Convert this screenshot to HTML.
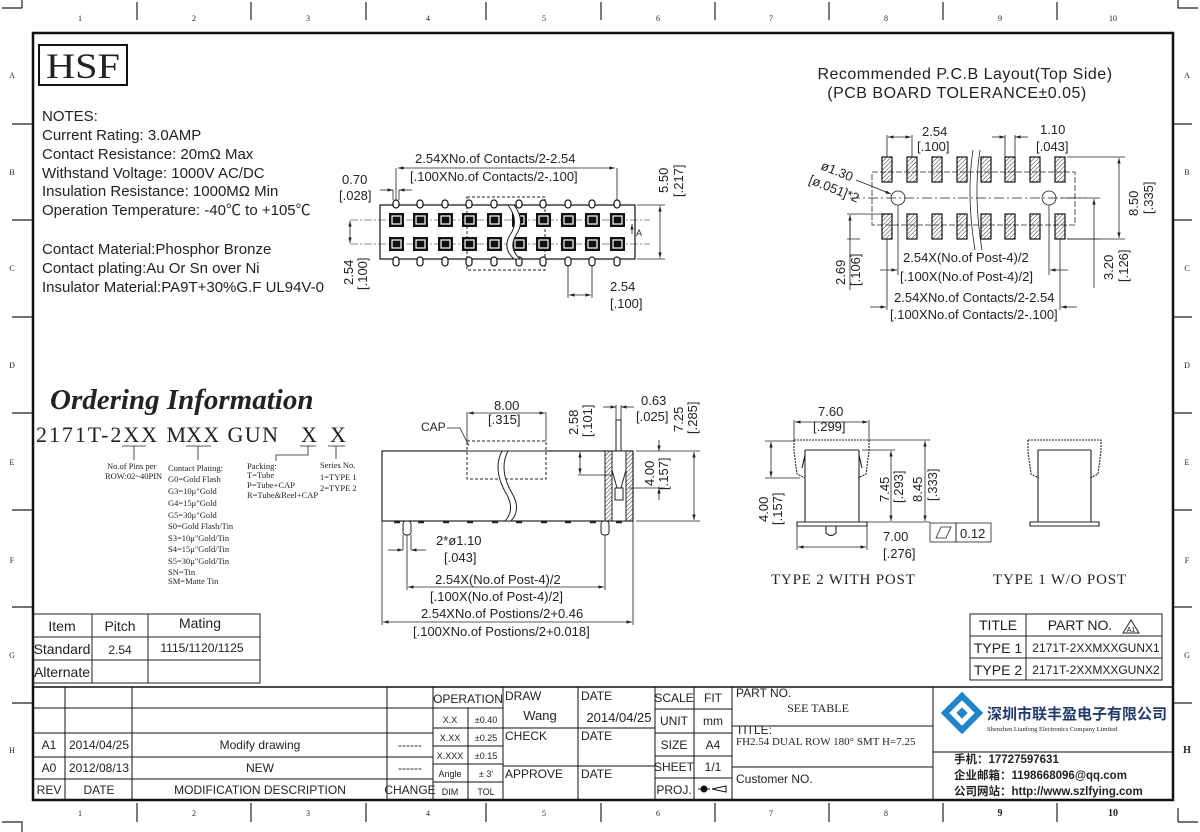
<!DOCTYPE html>
<html><head><meta charset="utf-8"><style>
html,body{margin:0;padding:0;background:#fff}
svg{display:block}
text{font-family:"Liberation Sans","Noto Sans CJK SC",sans-serif;fill:#222}
.s,.s text{font-family:"Liberation Serif","Noto Serif CJK SC",serif}
</style></head><body>
<svg width="1200" height="832" viewBox="0 0 1200 832" xmlns="http://www.w3.org/2000/svg">
<defs>
<pattern id="h" width="3" height="3" patternUnits="userSpaceOnUse" patternTransform="rotate(45)"><line x1="0" y1="0" x2="0" y2="3" stroke="#333" stroke-width="1"/></pattern>
<marker id="a" viewBox="0 0 10 10" refX="10" refY="5" markerWidth="7" markerHeight="7" orient="auto-start-reverse"><path d="M0,2 L10,5 L0,8z" fill="#222"/></marker>
</defs>
<!-- border -->
<rect x="33" y="33" width="1140" height="767" fill="none" stroke="#111" stroke-width="2.5"/>
<g stroke="#222" stroke-width="1.2" fill="none">
<path d="M2,8 H22 M22,8 V0"/><path d="M1178,0 V8 H1198"/>
<path d="M2,822 H22 V832"/><path d="M1178,822 V808 M1178,822 H1198" />
<line x1="137" y1="2" x2="137" y2="20"/><line x1="251" y1="2" x2="251" y2="20"/><line x1="366" y1="2" x2="366" y2="20"/><line x1="486" y1="2" x2="486" y2="20"/><line x1="601" y1="2" x2="601" y2="20"/><line x1="715" y1="2" x2="715" y2="20"/><line x1="829" y1="2" x2="829" y2="20"/><line x1="943" y1="2" x2="943" y2="20"/><line x1="1057" y1="2" x2="1057" y2="20"/>
<line x1="137" y1="803" x2="137" y2="822"/><line x1="251" y1="803" x2="251" y2="822"/><line x1="366" y1="803" x2="366" y2="822"/><line x1="486" y1="803" x2="486" y2="822"/><line x1="601" y1="803" x2="601" y2="822"/><line x1="715" y1="803" x2="715" y2="822"/><line x1="829" y1="803" x2="829" y2="822"/><line x1="943" y1="803" x2="943" y2="822"/><line x1="1057" y1="803" x2="1057" y2="822"/>
<line x1="12" y1="124" x2="33" y2="124"/><line x1="12" y1="220" x2="33" y2="220"/><line x1="12" y1="317" x2="33" y2="317"/><line x1="12" y1="413" x2="33" y2="413"/><line x1="12" y1="510" x2="33" y2="510"/><line x1="12" y1="607" x2="33" y2="607"/><line x1="12" y1="703" x2="33" y2="703"/>
<line x1="1173" y1="124" x2="1192" y2="124"/><line x1="1173" y1="220" x2="1192" y2="220"/><line x1="1173" y1="317" x2="1192" y2="317"/><line x1="1173" y1="413" x2="1192" y2="413"/><line x1="1173" y1="510" x2="1192" y2="510"/><line x1="1173" y1="607" x2="1192" y2="607"/><line x1="1173" y1="703" x2="1192" y2="703"/>
</g>
<g font-size="8" text-anchor="middle" class="s">
<text x="80" y="21">1</text><text x="194" y="21">2</text><text x="308" y="21">3</text><text x="428" y="21">4</text><text x="544" y="21">5</text><text x="658" y="21">6</text><text x="771" y="21">7</text><text x="886" y="21">8</text><text x="1000" y="21">9</text><text x="1113" y="21">10</text>
<text x="80" y="816">1</text><text x="194" y="816">2</text><text x="308" y="816">3</text><text x="428" y="816">4</text><text x="544" y="816">5</text><text x="658" y="816">6</text><text x="771" y="816">7</text><text x="886" y="816">8</text><text x="1000" y="816" font-size="10" font-weight="bold">9</text><text x="1113" y="816" font-size="10" font-weight="bold">10</text>
<text x="12" y="78">A</text><text x="12" y="175">B</text><text x="12" y="271">C</text><text x="12" y="368">D</text><text x="12" y="465">E</text><text x="12" y="563">F</text><text x="12" y="658">G</text><text x="12" y="753">H</text>
<text x="1187" y="78">A</text><text x="1187" y="175">B</text><text x="1187" y="271">C</text><text x="1187" y="368">D</text><text x="1187" y="465">E</text><text x="1187" y="563">F</text><text x="1187" y="658">G</text><text x="1187" y="753" font-size="10" font-weight="bold">H</text>
</g>
<!-- HSF -->
<rect x="39" y="45" width="88" height="40" fill="none" stroke="#111" stroke-width="2"/>
<text x="83" y="78" text-anchor="middle" class="s" font-size="36" textLength="74" lengthAdjust="spacingAndGlyphs">HSF</text>
<!-- notes -->
<g font-size="15">
<text x="42" y="121">NOTES:</text>
<text x="42" y="140">Current Rating: 3.0AMP</text>
<text x="42" y="159">Contact Resistance: 20mΩ Max</text>
<text x="42" y="178">Withstand Voltage: 1000V AC/DC</text>
<text x="42" y="196">Insulation Resistance: 1000MΩ Min</text>
<text x="42" y="215">Operation Temperature: -40℃ to +105℃</text>
<text x="42" y="254">Contact Material:Phosphor Bronze</text>
<text x="42" y="273">Contact plating:Au Or Sn over Ni</text>
<text x="42" y="292">Insulator Material:PA9T+30%G.F UL94V-0</text>
</g>
<!-- top connector view -->
<g stroke="#222" fill="none" stroke-width="1">
<rect x="380" y="205" width="255" height="54" stroke-width="1.3"/>
<rect x="467" y="197" width="78" height="73" stroke-dasharray="3,2"/>
<line x1="350" y1="220" x2="650" y2="220" stroke-dasharray="8,2,2,2" stroke-width=".6"/>
<line x1="350" y1="244" x2="650" y2="244" stroke-dasharray="8,2,2,2" stroke-width=".6"/>
</g>
<g fill="#fff" stroke="#111" stroke-width="1.2">
<rect x="393" y="200" width="6" height="8" rx="3"/><rect x="417" y="200" width="6" height="8" rx="3"/><rect x="442" y="200" width="6" height="8" rx="3"/><rect x="466" y="200" width="6" height="8" rx="3"/><rect x="491" y="200" width="6" height="8" rx="3"/><rect x="516" y="200" width="6" height="8" rx="3"/><rect x="540" y="200" width="6" height="8" rx="3"/><rect x="565" y="200" width="6" height="8" rx="3"/><rect x="589" y="200" width="6" height="8" rx="3"/><rect x="614" y="200" width="6" height="8" rx="3"/>
<rect x="393" y="257" width="6" height="9" rx="3"/><rect x="417" y="257" width="6" height="9" rx="3"/><rect x="442" y="257" width="6" height="9" rx="3"/><rect x="466" y="257" width="6" height="9" rx="3"/><rect x="491" y="257" width="6" height="9" rx="3"/><rect x="516" y="257" width="6" height="9" rx="3"/><rect x="540" y="257" width="6" height="9" rx="3"/><rect x="565" y="257" width="6" height="9" rx="3"/><rect x="589" y="257" width="6" height="9" rx="3"/><rect x="614" y="257" width="6" height="9" rx="3"/>
</g>
<g fill="#111">
<rect x="389" y="213" width="15" height="14"/><rect x="413" y="213" width="15" height="14"/><rect x="438" y="213" width="15" height="14"/><rect x="462" y="213" width="15" height="14"/><rect x="487" y="213" width="15" height="14"/><rect x="512" y="213" width="15" height="14"/><rect x="536" y="213" width="15" height="14"/><rect x="561" y="213" width="15" height="14"/><rect x="585" y="213" width="15" height="14"/><rect x="610" y="213" width="15" height="14"/>
<rect x="389" y="237" width="15" height="14"/><rect x="413" y="237" width="15" height="14"/><rect x="438" y="237" width="15" height="14"/><rect x="462" y="237" width="15" height="14"/><rect x="487" y="237" width="15" height="14"/><rect x="512" y="237" width="15" height="14"/><rect x="536" y="237" width="15" height="14"/><rect x="561" y="237" width="15" height="14"/><rect x="585" y="237" width="15" height="14"/><rect x="610" y="237" width="15" height="14"/>
</g>
<g fill="none" stroke="#fff" stroke-width="1.2">
<rect x="392" y="216" width="9" height="8"/><rect x="416" y="216" width="9" height="8"/><rect x="441" y="216" width="9" height="8"/><rect x="465" y="216" width="9" height="8"/><rect x="490" y="216" width="9" height="8"/><rect x="515" y="216" width="9" height="8"/><rect x="539" y="216" width="9" height="8"/><rect x="564" y="216" width="9" height="8"/><rect x="588" y="216" width="9" height="8"/><rect x="613" y="216" width="9" height="8"/>
<rect x="392" y="240" width="9" height="8"/><rect x="416" y="240" width="9" height="8"/><rect x="441" y="240" width="9" height="8"/><rect x="465" y="240" width="9" height="8"/><rect x="490" y="240" width="9" height="8"/><rect x="515" y="240" width="9" height="8"/><rect x="539" y="240" width="9" height="8"/><rect x="564" y="240" width="9" height="8"/><rect x="588" y="240" width="9" height="8"/><rect x="613" y="240" width="9" height="8"/>
</g>
<path d="M508,205 Q520,221 510,235 Q502,248 514,259 L520,259 Q508,248 516,235 Q526,221 514,205Z" fill="#fff" stroke="#222" stroke-width="1"/>
<g stroke="#222" stroke-width=".8" fill="none">
<path d="M396,168 V200 M617,168 V200" />
<line x1="398" y1="168" x2="615" y2="168" marker-start="url(#a)" marker-end="url(#a)"/>
<path d="M393,190 V200 M399,190 V200"/><line x1="380" y1="190" x2="393" y2="190" marker-end="url(#a)"/><line x1="412" y1="190" x2="399" y2="190" marker-end="url(#a)"/>
<path d="M637,205 H665 M637,259 H665"/><line x1="660" y1="206" x2="660" y2="258" marker-start="url(#a)" marker-end="url(#a)"/>
<line x1="350" y1="221" x2="350" y2="243" marker-start="url(#a)" marker-end="url(#a)"/>
<path d="M568,266 V298 M592,266 V298"/><line x1="569" y1="295" x2="591" y2="295" marker-start="url(#a)" marker-end="url(#a)"/>
<line x1="632" y1="224" x2="632" y2="234" marker-start="url(#a)"/>
</g>
<g font-size="13">
<text x="415" y="163">2.54XNo.of Contacts/2-2.54</text>
<text x="410" y="181">[.100XNo.of Contacts/2-.100]</text>
<text x="342" y="184">0.70</text><text x="339" y="200">[.028]</text>
<text x="610" y="291">2.54</text><text x="610" y="308">[.100]</text>
<text x="636" y="236" font-size="9">A</text>
<text transform="translate(353,285) rotate(-90)">2.54</text><text transform="translate(367,290) rotate(-90)">[.100]</text>
<text transform="translate(668,193) rotate(-90)">5.50</text>
<text transform="translate(683,197) rotate(-90)">[.217]</text>
</g>
<!-- PCB layout -->
<text x="965" y="79" text-anchor="middle" font-size="16" letter-spacing="0.5">Recommended P.C.B Layout(Top Side)</text>
<text x="957" y="98" text-anchor="middle" font-size="16" letter-spacing="0.5">(PCB BOARD TOLERANCE±0.05)</text>
<g stroke="#222" fill="none" stroke-width=".8">
<rect x="872" y="172" width="203" height="53" stroke-dasharray="6,2"/>
<line x1="850" y1="198" x2="1085" y2="198" stroke-dasharray="10,3,2,3"/>
<circle cx="898" cy="198" r="7"/><circle cx="1049" cy="198" r="7"/>
<path d="M973,150 Q966,195 975,250 M980,150 Q973,195 982,250" />
<line x1="856" y1="180" x2="891" y2="194" marker-end="url(#a)"/>
</g>
<g fill="url(#h)" stroke="#111" stroke-width="1.2">
<rect x="882" y="157" width="10" height="25"/><rect x="907" y="157" width="10" height="25"/><rect x="932" y="157" width="10" height="25"/><rect x="957" y="157" width="10" height="25"/><rect x="981" y="157" width="10" height="25"/><rect x="1005" y="157" width="10" height="25"/><rect x="1030" y="157" width="10" height="25"/><rect x="1055" y="157" width="10" height="25"/>
<rect x="882" y="214" width="10" height="25"/><rect x="907" y="214" width="10" height="25"/><rect x="932" y="214" width="10" height="25"/><rect x="957" y="214" width="10" height="25"/><rect x="981" y="214" width="10" height="25"/><rect x="1005" y="214" width="10" height="25"/><rect x="1030" y="214" width="10" height="25"/><rect x="1055" y="214" width="10" height="25"/>
</g>
<g stroke="#222" fill="none" stroke-width=".8">
<path d="M887,135 V157 M912,135 V157"/><line x1="888" y1="137" x2="911" y2="137" marker-start="url(#a)" marker-end="url(#a)"/>
<path d="M1005,135 V157 M1015,135 V157"/><line x1="992" y1="137" x2="1005" y2="137" marker-end="url(#a)"/><line x1="1028" y1="137" x2="1015" y2="137" marker-end="url(#a)"/>
<path d="M1067,157 H1125 M1067,239 H1125"/><line x1="1119" y1="158" x2="1119" y2="238" marker-start="url(#a)" marker-end="url(#a)"/>
<path d="M1060,198 H1100"/><path d="M1067,239 H1100"/><line x1="1094" y1="199" x2="1094" y2="288" marker-start="url(#a)"/>
<path d="M847,214 H882 M847,239 H860"/><line x1="850" y1="215" x2="850" y2="290"/><line x1="850" y1="215" x2="850" y2="240" marker-start="url(#a)"/>
<path d="M898,205 V275 M1049,205 V275"/><line x1="880" y1="270" x2="897" y2="270" marker-end="url(#a)"/><line x1="1068" y1="270" x2="1050" y2="270" marker-end="url(#a)"/>
<path d="M887,239 V310 M1060,239 V310"/><line x1="870" y1="307" x2="886" y2="307" marker-end="url(#a)"/><line x1="1077" y1="307" x2="1061" y2="307" marker-end="url(#a)"/>
</g>
<g font-size="13">
<text x="922" y="136">2.54</text><text x="917" y="151">[.100]</text>
<text x="1040" y="134">1.10</text><text x="1036" y="151">[.043]</text>
<text transform="translate(820,169) rotate(22)">ø1.30</text>
<text transform="translate(808,183) rotate(22)">[ø.051]*2</text>
<text x="903" y="262">2.54X(No.of Post-4)/2</text>
<text x="900" y="281">[.100X(No.of Post-4)/2]</text>
<text x="894" y="302">2.54XNo.of Contacts/2-2.54</text>
<text x="890" y="319">[.100XNo.of Contacts/2-.100]</text>
<text transform="translate(1138,216) rotate(-90)">8.50</text><text transform="translate(1153,214) rotate(-90)">[.335]</text>
<text transform="translate(1113,280) rotate(-90)">3.20</text><text transform="translate(1128,282) rotate(-90)">[.126]</text>
<text transform="translate(845,285) rotate(-90)">2.69</text><text transform="translate(860,286) rotate(-90)">[.106]</text>
</g>
<!-- Ordering -->
<text x="50" y="409" class="s" font-size="29" font-weight="bold" font-style="italic">Ordering Information</text>
<g class="s" font-size="22">
<text x="36" y="442" textLength="150" lengthAdjust="spacing">2171T-2XX M</text>
<text x="186" y="442" textLength="92" lengthAdjust="spacing">XX GUN</text>
<text x="301" y="442">X</text><text x="330" y="442">X</text>
</g>
<g stroke="#222" stroke-width=".8" fill="none">
<path d="M122,446 H146 M134,446 V460"/><path d="M186,446 H211 M198,446 V460"/><path d="M300,446 H316 M308,446 V455 H276 V461"/><path d="M328,446 H345 M336,446 V459"/>
</g>
<g class="s" font-size="8.5">
<text x="107" y="469">No.of Pins per</text><text x="105" y="479">ROW:02~40PIN</text>
<text x="168" y="471">Contact Plating:</text>
<text x="168" y="482">G0=Gold Flash</text><text x="168" y="494">G3=10μ"Gold</text><text x="168" y="506">G4=15μ"Gold</text><text x="168" y="518">G5=30μ"Gold</text><text x="168" y="529">S0=Gold Flash/Tin</text><text x="168" y="541">S3=10μ"Gold/Tin</text><text x="168" y="552">S4=15μ"Gold/Tin</text><text x="168" y="564">S5=30μ"Gold/Tin</text><text x="168" y="575">SN=Tin</text><text x="168" y="584">SM=Matte Tin</text>
<text x="247" y="469">Packing:</text><text x="247" y="478">T=Tube</text><text x="247" y="488">P=Tube+CAP</text><text x="247" y="498">R=Tube&amp;Reel+CAP</text>
<text x="320" y="468">Series No.</text><text x="320" y="480">1=TYPE 1</text><text x="320" y="491">2=TYPE 2</text>
</g>
<!-- side view -->
<g stroke="#222" fill="none" stroke-width="1">
<rect x="382" y="451" width="251" height="70" stroke-width="1.2"/>
<rect x="467" y="441" width="79" height="38" stroke-dasharray="3,2" fill="#fff"/>
<path d="M382,451 H633"/>
<rect x="605" y="451" width="28" height="70" fill="url(#h)"/>
<rect x="612" y="451" width="14" height="70" fill="#fff"/>
<path d="M616,451 V420 H621 V451 M612,470 L617,488 M626,470 L621,488 M615,488 H623 V500 H615Z"/>
<path d="M502,451 Q492,470 507,495 Q515,510 505,521 L511,521 Q521,510 513,495 Q498,470 508,451Z" fill="#fff"/>
<rect x="403" y="521" width="8" height="14" rx="3" fill="#fff"/><rect x="601" y="521" width="8" height="14" rx="3" fill="#fff"/>
<path d="M394,522 h6 M418,522 h6 M443,522 h6 M467,522 h6 M492,522 h6 M516,522 h6 M541,522 h6 M565,522 h6 M590,522 h6 M616,522 h6" stroke-width="2.5"/>
</g>
<g stroke="#222" fill="none" stroke-width=".8">
<path d="M467,412 V441 M546,412 V441"/><line x1="468" y1="413" x2="545" y2="413" marker-start="url(#a)" marker-end="url(#a)"/>
<path d="M447,428 H460 L469,446"/>
<path d="M580,451 H605 M578,475 H612"/><line x1="580" y1="452" x2="580" y2="474" marker-start="url(#a)" marker-end="url(#a)"/>
<path d="M616,405 V420 M621,405 V420"/><line x1="603" y1="407" x2="616" y2="407" marker-end="url(#a)"/><line x1="634" y1="407" x2="621" y2="407" marker-end="url(#a)"/>
<path d="M636,451 H700 M636,521 H700"/><line x1="694" y1="452" x2="694" y2="520" marker-start="url(#a)" marker-end="url(#a)"/>
<path d="M629,488 H665"/><line x1="659" y1="440" x2="659" y2="451" marker-end="url(#a)"/><line x1="659" y1="500" x2="659" y2="488" marker-end="url(#a)"/>
<path d="M403,535 V550 M411,535 V550"/><line x1="388" y1="550" x2="403" y2="550" marker-end="url(#a)"/><line x1="426" y1="550" x2="411" y2="550" marker-end="url(#a)"/>
<path d="M407,535 V590 M605,535 V590"/><line x1="408" y1="587" x2="604" y2="587" marker-start="url(#a)" marker-end="url(#a)"/>
<path d="M382,521 V625 M633,521 V625"/><line x1="383" y1="622" x2="632" y2="622" marker-start="url(#a)" marker-end="url(#a)"/>
</g>
<g font-size="13">
<text x="494" y="410">8.00</text><text x="488" y="424">[.315]</text>
<text x="421" y="431" font-size="12">CAP</text>
<text transform="translate(578,435) rotate(-90)">2.58</text><text transform="translate(592,437) rotate(-90)">[.101]</text>
<text x="641" y="405">0.63</text><text x="636" y="421">[.025]</text>
<text transform="translate(683,432) rotate(-90)">7.25</text><text transform="translate(697,434) rotate(-90)">[.285]</text>
<text transform="translate(654,486) rotate(-90)">4.00</text><text transform="translate(668,490) rotate(-90)">[.157]</text>
<text x="436" y="545">2*ø1.10</text><text x="444" y="562">[.043]</text>
<text x="435" y="584">2.54X(No.of Post-4)/2</text>
<text x="430" y="601">[.100X(No.of Post-4)/2]</text>
<text x="421" y="618">2.54XNo.of Postions/2+0.46</text>
<text x="413" y="636">[.100XNo.of Postions/2+0.018]</text>
</g>
<!-- type 2 -->
<g stroke="#222" fill="none" stroke-width="1.1">
<path d="M794,440 H869 V451 L866,474 L858,478 M794,440 V451 L797,474 L805,478" stroke-dasharray="2,1"/>
<path d="M805,450 H859 M805,450 V522 M859,450 V522 M805,455 L802,468 M859,455 L862,468"/>
<path d="M797,522 H867 V526 H797Z"/>
<path d="M826,526 V533 Q831,538 836,533 V526"/>
<path d="M1028,440 H1101 V451 L1098,474 L1090,478 M1028,440 V451 L1031,474 L1039,478" stroke-dasharray="2,1"/>
<path d="M1038,450 H1091 M1038,450 V522 M1091,450 V522"/>
<path d="M1030,522 H1099 V526 H1030Z"/>
</g>
<g stroke="#222" fill="none" stroke-width=".8">
<path d="M794,420 V440 M869,420 V440"/><line x1="795" y1="422" x2="868" y2="422" marker-start="url(#a)" marker-end="url(#a)"/>
<path d="M765,441 H794 M765,478 H800"/><line x1="771" y1="442" x2="771" y2="477" marker-start="url(#a)" marker-end="url(#a)"/>
<path d="M862,450 H895"/><line x1="891" y1="451" x2="891" y2="521" marker-start="url(#a)" marker-end="url(#a)"/>
<path d="M869,440 H930 M867,522 H930"/><line x1="925" y1="441" x2="925" y2="521" marker-start="url(#a)" marker-end="url(#a)"/>
<path d="M797,526 V550 M867,526 V550"/><line x1="798" y1="547" x2="866" y2="547" marker-start="url(#a)" marker-end="url(#a)"/>
<rect x="930" y="523" width="26" height="19"/><rect x="956" y="523" width="35" height="19"/>
<path d="M936,538 L941,527 H951 L946,538Z"/>
</g>
<g font-size="13">
<text x="818" y="416">7.60</text><text x="813" y="431">[.299]</text>
<text transform="translate(768,522) rotate(-90)">4.00</text><text transform="translate(782,525) rotate(-90)">[.157]</text>
<text transform="translate(889,502) rotate(-90)">7.45</text><text transform="translate(903,503) rotate(-90)">[.293]</text>
<text transform="translate(922,502) rotate(-90)">8.45</text><text transform="translate(937,501) rotate(-90)">[.333]</text>
<text x="883" y="541">7.00</text><text x="883" y="558">[.276]</text>
<text x="960" y="538">0.12</text>
</g>
<text x="771" y="584" class="s" font-size="15" letter-spacing="0.8">TYPE 2 WITH POST</text>
<text x="993" y="584" class="s" font-size="15" letter-spacing="0.8">TYPE 1 W/O POST</text>
<!-- item table -->
<g stroke="#222" fill="none" stroke-width="1">
<rect x="33" y="614" width="227" height="69"/>
<path d="M33,637 H260 M33,660 H260 M92,614 V683 M148,614 V683"/>
<rect x="970" y="614" width="192" height="66"/>
<path d="M970,636 H1162 M970,658 H1162 M1026,614 V680"/>
</g>
<g font-size="14" text-anchor="middle">
<text x="62" y="631">Item</text><text x="120" y="631">Pitch</text><text x="200" y="628">Mating</text>
<text x="62" y="654">Standard</text><text x="120" y="654" font-size="12">2.54</text><text x="202" y="652" font-size="12">1115/1120/1125</text>
<text x="62" y="677">Alternate</text>
<text x="998" y="630">TITLE</text><text x="1080" y="630">PART NO.</text>
<text x="998" y="653">TYPE 1</text><text x="1096" y="652" font-size="12">2171T-2XXMXXGUNX1</text>
<text x="998" y="675">TYPE 2</text><text x="1096" y="674" font-size="12">2171T-2XXMXXGUNX2</text>
</g>
<path d="M1123,633 L1131,620 L1139,633Z" fill="none" stroke="#222"/><text x="1131" y="632" font-size="7" text-anchor="middle">A1</text>
<!-- title block -->
<g stroke="#111" fill="none" stroke-width="1">
<path d="M33,687 H1173" stroke-width="1.5"/>
<path d="M33,708 H433 M33,733 H433 M33,757 H433 M33,779 H433"/>
<path d="M65,687 V800 M132,687 V800 M387,687 V800 M433,687 V800"/>
<path d="M433,708 H503 M433,728 H503 M433,746 H503 M433,764 H503 M433,782 H503 M468,708 V800 M503,687 V800"/>
<path d="M503,728 H655 M503,766 H655 M578,687 V800 M655,687 V800"/>
<path d="M655,709 H732 M655,733 H732 M655,756 H732 M655,778 H732 M694,687 V800 M732,687 V800"/>
<path d="M732,726 H933 M732,767 H933 M933,687 V800 M933,752 H1173"/>
</g>
<g font-size="12" text-anchor="middle">
<text x="49" y="749">A1</text><text x="99" y="749">2014/04/25</text><text x="260" y="749">Modify drawing</text><text x="410" y="749">------</text>
<text x="49" y="772">A0</text><text x="99" y="772">2012/08/13</text><text x="260" y="772">NEW</text><text x="410" y="772">------</text>
<text x="49" y="794">REV</text><text x="99" y="794">DATE</text><text x="260" y="794">MODIFICATION DESCRIPTION</text><text x="410" y="794">CHANGE</text>
<text x="468" y="703">OPERATION</text>
<text x="450" y="723" font-size="9">X.X</text><text x="486" y="723" font-size="9">±0.40</text>
<text x="450" y="741" font-size="9">X.XX</text><text x="486" y="741" font-size="9">±0.25</text>
<text x="450" y="759" font-size="9">X.XXX</text><text x="486" y="759" font-size="9">±0.15</text>
<text x="450" y="777" font-size="9">Angle</text><text x="486" y="777" font-size="9">± 3'</text>
<text x="450" y="795" font-size="9">DIM</text><text x="486" y="795" font-size="9">TOL</text>
<text x="540" y="720" font-size="13">Wang</text>
<text x="619" y="722" font-size="13">2014/04/25</text>
<text x="674" y="702">SCALE</text><text x="713" y="702">FIT</text>
<text x="674" y="725">UNIT</text><text x="713" y="725">mm</text>
<text x="674" y="749">SIZE</text><text x="713" y="749">A4</text>
<text x="674" y="771">SHEET</text><text x="713" y="771">1/1</text>
<text x="674" y="794">PROJ.</text>
<text x="818" y="712" class="s">SEE TABLE</text>
</g>
<g font-size="12">
<text x="505" y="700">DRAW</text><text x="505" y="740">CHECK</text><text x="505" y="778">APPROVE</text>
<text x="581" y="700">DATE</text><text x="581" y="740">DATE</text><text x="581" y="778">DATE</text>
<text x="736" y="697">PART NO.</text><text x="736" y="734">TITLE:</text>
<text x="736" y="745" class="s" font-size="11">FH2.54 DUAL ROW 180° SMT H=7.25</text>
<text x="736" y="783">Customer NO.</text>
</g>
<g stroke="#111" fill="#111"><circle cx="704" cy="789" r="3"/><line x1="698" y1="789" x2="710" y2="789"/><path d="M712,789 L726,786 V792Z" fill="none"/></g>
<!-- logo -->
<g transform="translate(962,713)">
<rect x="-15" y="-15" width="30" height="30" transform="rotate(45)" fill="#1f86c9"/>
<rect x="-9" y="-9" width="18" height="18" transform="rotate(45)" fill="#fff"/>
<rect x="-4" y="-4" width="8" height="8" transform="rotate(45)" fill="#1f86c9"/>
</g>
<text x="987" y="719" font-size="15" font-weight="bold" style="fill:#223a6e" font-family="Noto Sans CJK SC">深圳市联丰盈电子有限公司</text>
<text x="987" y="731" font-size="6.5" class="s">Shenzhen Lianfeng Electronics Company Limited</text>
<g font-size="11.5" font-weight="bold" style="fill:#444">
<text x="954" y="763">手机：17727597631</text>
<text x="954" y="779">企业邮箱：1198668096@qq.com</text>
<text x="954" y="795">公司网站：http://www.szlfying.com</text>
</g>
</svg>
</body></html>
